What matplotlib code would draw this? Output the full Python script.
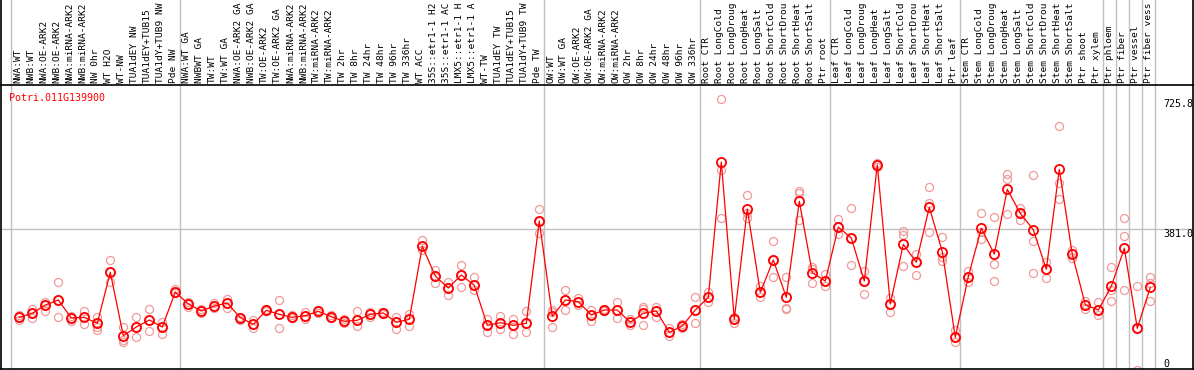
import numpy as np
import matplotlib
matplotlib.use("Agg")
import matplotlib.pyplot as plt

# sample labels, one per column (as far as they are visible in the header)
labels_nw = ["NWA:WT", "NWB:WT", "NWA:OE-ARK2", "NWB:OE-ARK2", "NWA:miRNA-ARK2",
             "NWB:miRNA-ARK2", "NW 0hr", "WT H2O", "WT-NW", "TUA1dEY NW",
             "TUA1dEY+TUB15", "TUA1dY+TUB9 NW", "Pde NW"]
labels_tw = ["NWA:WT GA", "NWBWT GA", "TW:WT", "TW:WT GA", "NWA:OE-ARK2 GA",
             "NWB:OE-ARK2 GA", "TW:OE-ARK2", "TW:OE-ARK2 GA", "NWA:miRNA-ARK2",
             "NWB:miRNA-ARK2", "TW:miRNA-ARK2", "TW:miRNA-ARK2", "TW 2hr", "TW 8hr",
             "TW 24hr", "TW 48hr", "TW 96hr", "TW 336hr", "WT ACC", "35S::etr1-1 H2",
             "35S::etr1-1 AC", "LMX5::etr1-1 H", "LMX5::etr1-1 A", "WT-TW",
             "TUA1dEY TW", "TUA1dEY+TUB15", "TUA1dY+TUB9 TW", "Pde TW"]
labels_ow = ["OW:WT", "OW:WT GA", "OW:OE-ARK2", "OW:OE-ARK2 GA", "OW:miRNA-ARK2",
             "OW:miRNA-ARK2", "OW 2hr", "OW 8hr", "OW 24hr", "OW 48hr", "OW 96hr",
             "OW 336hr"]
labels_root = ["Root CTR", "Root LongCold", "Root LongDroug", "Root LongHeat",
               "Root LongSalt", "Root ShortCold", "Root ShortDrou",
               "Root ShortHeat", "Root ShortSalt", "Ptr root"]
labels_leaf = ["Leaf CTR", "Leaf LongCold", "Leaf LongDroug", "Leaf LongHeat",
               "Leaf LongSalt", "Leaf ShortCold", "Leaf ShortDrou",
               "Leaf ShortHeat", "Leaf ShortSalt", "Ptr leaf"]
labels_stem = ["Stem CTR", "Stem LongCold", "Stem LongDroug", "Stem LongHeat",
               "Stem LongSalt", "Stem ShortCold", "Stem ShortDrou",
               "Stem ShortHeat", "Stem ShortSalt", "Ptr shoot", "Ptr xylem"]
labels_ptr = ["Ptr phloem", "Ptr fiber", "Ptr vessel", "Ptr fiber vess"]

groups = [labels_nw, labels_tw, labels_ow, labels_root, labels_leaf,
          labels_stem] + [[l] for l in labels_ptr]
labels = [l for g in groups for l in g]

gene = "Potri.011G139900"

# mean expression per sample
means = [145.2, 155.9, 177.9, 191.2, 143.4, 145.2, 129.3, 264.7, 96.4, 119.5,
         138.1, 119.5, 212.4,
         180.6, 162.0, 175.3, 183.2, 144.2, 126.7, 163.8, 153.2, 145.2, 149.5,
         161.2, 146.8, 134.6, 137.3, 153.2, 156.7, 132.0, 139.9, 333.8, 254.9,
         223.0, 257.6, 230.2, 124.0, 130.9, 124.0, 129.3, 401.0,
         147.9, 191.2, 186.7, 151.4, 164.6, 164.6, 132.0, 155.9, 162.0, 105.4,
         122.1, 164.6,
         198.4, 557.6, 140.7, 432.8, 211.6, 297.4, 198.4, 453.3, 263.7, 241.6,
         385.0, 355.8, 241.6, 549.7, 180.6, 339.1, 291.3, 437.3, 319.4, 92.1,
         253.1, 381.6, 313.3, 485.1, 421.4, 377.9, 272.7, 538.2, 312.5, 178.7,
         164.6,
         227.6, 328.5, 116.0, 224.9]

# replicate values per sample
reps = [[152.3, 145.2, 138.1], [168.2, 155.8, 143.4], [186.8, 177.1, 162.9],
        [238.1, 190.3, 145.2], [149.6, 143.4, 136.4], [162.0, 145.2, 126.6],
        [147.0, 129.3, 120.4, 111.6], [296.6, 264.7, 239.9], [119.5, 85.0, 79.7],
        [145.2, 119.5, 93.0], [166.4, 138.1, 108.0], [131.9, 119.5, 101.8],
        [219.6, 212.5, 208.9],
        [186.8, 180.6, 173.5], [166.4, 162.0, 155.8], [182.4, 175.3, 170.0],
        [194.8, 183.3, 170.0], [147.0, 144.3, 138.1], [138.1, 126.6, 116.0],
        [166.4, 163.8, 161.1], [191.2, 153.2, 116.0], [151.4, 145.2, 143.4],
        [158.5, 149.6, 139.9], [164.7, 161.1, 157.6], [151.4, 145.2, 143.4],
        [139.9, 134.6, 131.1], [162.0, 137.2, 122.2], [158.5, 153.2, 147.0],
        [159.4, 156.7, 154.1], [145.2, 131.9, 115.1], [154.1, 139.9, 123.1],
        [349.7, 333.7, 324.0], [270.9, 255.0, 235.5], [238.1, 223.1, 205.4],
        [283.3, 257.6, 224.9], [252.3, 230.2, 217.8], [141.7, 124.0, 106.3],
        [148.7, 131.1, 115.1], [141.7, 124.0, 100.1], [162.9, 129.3, 105.4],
        [432.0, 401.0, 368.3],
        [164.7, 160.3, 118.6], [216.9, 191.2, 164.7], [195.7, 186.8, 178.0],
        [164.7, 151.4, 136.4], [166.4, 164.7, 162.9], [185.9, 164.7, 143.4],
        [141.7, 131.9, 124.0], [173.5, 168.2, 124.0], [173.5, 162.0, 145.2],
        [116.0, 105.4, 95.6], [127.5, 122.2, 116.9], [198.3, 164.7, 129.3],
        [213.4, 198.3, 186.8], [725.8, 536.4, 408.1], [147.0, 140.8, 131.1],
        [469.2, 421.4, 408.1], [228.4, 211.6, 198.3], [347.0, 297.4, 253.2],
        [251.4, 170.9, 166.4], [480.7, 474.5, 403.7], [279.7, 272.6, 235.5],
        [260.3, 241.7, 228.4],
        [405.4, 385.1, 366.5], [435.5, 355.9, 283.3], [269.1, 241.7, 206.3],
        [554.1, 549.7, 545.3], [195.7, 180.6, 158.5], [375.3, 363.8, 281.5],
        [313.4, 291.2, 257.6], [490.4, 447.9, 372.7], [357.6, 305.4, 295.7],
        [111.6, 92.1, 78.8],
        [269.1, 253.2, 239.9], [421.4, 372.7, 352.3], [410.7, 285.9, 241.7],
        [525.8, 513.4, 418.7], [436.4, 418.7, 404.5], [522.3, 348.8, 262.1],
        [293.0, 272.6, 248.8], [652.4, 501.0, 458.5], [324.0, 315.1, 301.9],
        [189.4, 180.6, 166.4], [186.8, 164.7, 150.5],
        [278.0, 217.8, 188.6], [408.1, 360.3, 216.9], [228.4, 116.0, 5.4],
        [251.4, 235.5, 188.6]]

ytick_vals = [725.8, 381.0, 0]

mono = "DejaVu Sans Mono"
W, H = 1194, 370
fig = plt.figure(figsize=(W / 100, H / 100), dpi=100)
ax = fig.add_axes([1 / W, 1 / H, 1192 / W, 284 / H])

x = np.arange(len(labels))
ax.set_xlim(-1.408, 90.285)
ax.set_ylim(8.0, 762.1)

# replicates
for i, r in enumerate(reps):
    ax.plot([i] * len(r), r, 'o', ms=5.8, mfc='none', mec='#f09a9a',
            mew=0.9, zorder=2, clip_on=True)
ax.plot(x, means, '-', color='red', lw=0.9, zorder=3)
ax.plot(x, means, 'o', ms=6.6, mfc='none', mec='red', mew=1.3, zorder=4)

# grid / separators
ax.axhline(381.0, color='#c0c0c0', lw=1, zorder=1)
tr = ax.get_xaxis_transform()
seps = [-0.615]
pos = -1
for g in groups:
    pos += len(g)
    seps.append(pos + 0.385)
top = 369 / 284
for s in seps:
    ax.plot([s, s], [0, top], transform=tr, color='#c0c0c0', lw=1,
            zorder=1, clip_on=False)
for s in ax.get_xlim():
    ax.plot([s, s], [1, top], transform=tr, color='black', lw=1.2,
            zorder=5, clip_on=False)

for i, lab in enumerate(labels):
    ax.text(i - 0.12, 1 + 2 / 284, lab, transform=tr, rotation=90,
            ha='center', va='bottom', fontsize=6.8, family=mono,
            clip_on=False)

ax.text(8.5 / 1192, 1 - 8 / 284, gene, transform=ax.transAxes, color='red',
        ha='left', va='top', fontsize=7.2, family=mono)

# y labels on the right
lx = (1163 - 19.3) / 13
ax.text(lx, ytick_vals[0], "%.1f" % ytick_vals[0], ha='left', va='top',
        fontsize=7.2, family=mono)
ax.text(lx, ytick_vals[1], "%.1f" % ytick_vals[1], ha='left', va='top',
        fontsize=7.2, family=mono)
ax.text(lx, 8.0, "%d" % ytick_vals[2], ha='left', va='bottom',
        fontsize=7.2, family=mono)

ax.set_xticks([])
ax.set_yticks([])
for sp in ax.spines.values():
    sp.set_color('black')
    sp.set_linewidth(1.2)

fig.savefig("out.png", dpi=100)
